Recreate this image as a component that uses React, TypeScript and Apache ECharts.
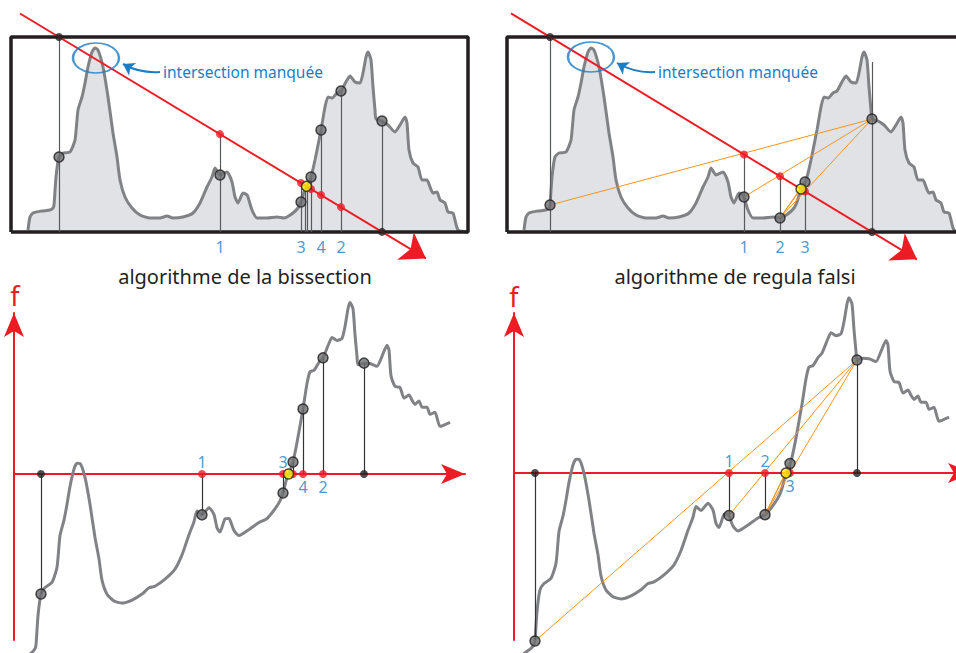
import React, { useEffect, useRef } from "react";
import * as echarts from "echarts";

// Terrain profile inside the 457 x 195 box (t: horizontal position, h: height above box floor)
const terrainT = [17,19,22,31,39,42,43,45,48,52,59,64,67,71,74,77,81,84,87,92,97,102,106,109,114,121,129,139,149,156,162,172,182,189,196,201,204,209,216,221,224,227,232,236,237,241,246,256,266,273,276,282,287,290,294,298,300,304,310,314,317,321,326,330,336,339,344,349,352,355,357,360,362,364,365,371,377,384,389,394,396,398,402,407,411,416,419,422,426,429,434,437,442,447,457];
const terrainH = [2,15,19,21,22,24,27,55,75,79,80,92,122,135,149,165,180,184,182,165,135,99,75,52,35,24,17,14,14,16,14,15,19,29,45,55,64,57,60,50,35,29,39,37,35,22,14,14,15,14,15,19,24,30,43,50,55,72,102,125,135,134,139,141,152,156,150,149,159,175,180,172,145,122,113,111,107,100,107,115,109,82,69,65,52,52,45,39,40,32,29,20,19,2,0];

// Box
const boxCorners = [[0, 0], [457, 0], [457, 195], [0, 195], [0, 0]];

// Rays (start, arrow tip)
const rayLeft = [[9, 218.5], [415, -26.4]];
const rayRight = [[4, 218.6], [410, -27.3]];

// Bisection
const bisEnds = [48, 371];
const bisSteps = [209, 330, 290, 310];
const bisLabels = ["1", "2", "3", "4"];
const bisSides = ["top", "bottom", "top", "bottom"];
const bisExtra = [300];
const bisRoot = 295.5;
const bisFine = [294, 296.5];

// Regula falsi
const rfEnds = [43, 365];
const rfSteps = [237, 273, 298];
const rfLabels = ["1", "2", "3"];
const rfSides = ["top", "top", "bottom"];
const rfRoot = 294;
const rfEndLineTop = 170;
const rfSecants = [[43, 365], [237, 365], [273, 365], [273, 298], [273, 294]];

// Annotation "intersection manquée"
const missLeft = { ellipse: [85, 174], arrow: [[149, 160], [112, 168]] };
const missRight = { ellipse: [84, 175], arrow: [[148, 160], [110, 169]] };

const RED = "#ed1c24";
const BLUE = "#1b7dc4";
const CURVE = "#808285";
const FILL = "#e0e2e6";
const DARK = "#231f20";
const ORANGE = "#f7941d";
const PT = "#6d6e71";
const YEL = "#fff200";
const FONT = "'Noto Sans', 'DejaVu Sans', sans-serif";

function hAt(t: number) {
  const i = terrainT.indexOf(t);
  return i >= 0 ? terrainH[i] : NaN;
}
function rayAt(ray: number[][], t: number) {
  const [[x0, y0], [x1, y1]] = ray;
  return y0 + ((y1 - y0) * (t - x0)) / (x1 - x0);
}

function buildPanel(idx: number, top: boolean, ray: number[][], cfg: any) {
  const base = { xAxisIndex: idx, yAxisIndex: idx, silent: true };
  const r = (t: number) => (top ? rayAt(ray, t) : 0);
  const v = (t: number) => (t === cfg.root ? r(t) : top ? hAt(t) : hAt(t) - rayAt(ray, t));
  const curve = terrainT.map((t, i) => [t, top ? terrainH[i] : terrainH[i] - rayAt(ray, t)]);
  const pts = [...cfg.ends, ...cfg.steps, ...cfg.extra];
  const s: any[] = [];
  const curveSeries: any = {
    type: "line", ...base, data: curve, symbol: "none", smooth: 0.2, clip: false,
    lineStyle: { color: CURVE, width: 3 }, z: 1,
  };
  if (top) curveSeries.areaStyle = { color: FILL, opacity: 1 };
  s.push(curveSeries);
  if (top) {
    s.push({ type: "line", ...base, data: boxCorners, symbol: "none", clip: false, lineStyle: { color: DARK, width: 3.5 }, z: 2 });
  }
  // vertical lines
  const vl: any[] = pts.map((t: number) => {
    let yTop = top ? Math.max(v(t), r(t)) : v(t);
    if (top && cfg.endLineTop && t === cfg.ends[1]) yTop = cfg.endLineTop;
    return { coords: [[t, 0], [t, yTop]] };
  });
  if (top) (cfg.fine || []).forEach((t: number) => vl.push({ coords: [[t, 0], [t, rayAt(ray, t)]] }));
  s.push({
    type: "lines", coordinateSystem: "cartesian2d", ...base, data: vl, clip: false,
    lineStyle: { color: top ? "#58595b" : "#333333", width: 1.2, opacity: 1 }, z: 3,
  });
  // secants
  if (cfg.secants) {
    s.push({
      type: "lines", coordinateSystem: "cartesian2d", ...base, clip: false,
      data: cfg.secants.map(([a, b]: number[]) => ({ coords: [[a, v(a)], [b, v(b)]] })),
      lineStyle: { color: ORANGE, width: 1, opacity: 1 }, z: 4,
    });
  }
  // ray and annotation (top panels)
  if (top) {
    s.push({
      type: "lines", coordinateSystem: "cartesian2d", ...base, clip: false,
      data: [{ coords: ray }], symbol: ["none", "arrow"], symbolSize: [15, 24],
      lineStyle: { color: RED, width: 2, opacity: 1 }, z: 5,
    });
    s.push({
      type: "lines", coordinateSystem: "cartesian2d", ...base, clip: false,
      data: [{ coords: cfg.miss.arrow }], symbol: ["none", "arrow"], symbolSize: [9, 11],
      lineStyle: { color: BLUE, width: 2, opacity: 1, curveness: 0.15 }, z: 5,
    });
    s.push({
      type: "scatter", ...base, clip: false, data: [cfg.miss.ellipse], symbol: "circle", symbolSize: [46, 30],
      itemStyle: { color: "rgba(0,0,0,0)", borderColor: BLUE, borderWidth: 2 }, z: 5,
    });
  }
  // points
  s.push({
    type: "scatter", ...base, clip: false, data: pts.map((t: number) => [t, v(t)]), symbolSize: 10,
    itemStyle: { color: PT, borderColor: DARK, borderWidth: 1.5 }, z: 6,
  });
  s.push({
    type: "scatter", ...base, clip: false, data: [...cfg.steps, ...cfg.extra].map((t: number) => [t, r(t)]), symbolSize: 8,
    itemStyle: { color: RED }, z: 6,
  });
  s.push({
    type: "scatter", ...base, clip: false, data: cfg.ends.map((t: number) => [t, r(t)]), symbolSize: 8,
    itemStyle: { color: DARK }, z: 6,
  });
  s.push({
    type: "scatter", ...base, clip: false, data: [[cfg.root, r(cfg.root)]], symbolSize: 10,
    itemStyle: { color: YEL, borderColor: DARK, borderWidth: 1.5 }, z: 7,
  });
  // labels
  s.push({
    type: "scatter", ...base, clip: false, symbolSize: 1, itemStyle: { color: "rgba(0,0,0,0)" }, z: 8,
    data: cfg.steps.map((t: number, i: number) => ({
      value: [t, 0],
      label: {
        show: true, formatter: cfg.labels[i], position: top ? "bottom" : cfg.sides[i], distance: top ? 6 : 4,
        color: BLUE, fontSize: 16, fontFamily: FONT,
      },
    })),
  });
  return s;
}

export default function App() {
  const ref = useRef<HTMLDivElement>(null);
  useEffect(() => {
    if (!ref.current) return;
    const chart = echarts.init(ref.current, undefined, { renderer: "svg" });
    const axisLine = (show: boolean) => ({
      show, onZero: true, symbol: ["none", "arrow"], symbolSize: [15, 24],
      lineStyle: { color: RED, width: 2 },
    });
    const hiddenX = (i: number, min: number, max: number) => ({ gridIndex: i, type: "value", min, max, show: false });
    const shownAxis = (i: number, min: number, max: number) => ({
      gridIndex: i, type: "value", min, max, axisLine: axisLine(true),
      axisTick: { show: false }, axisLabel: { show: false }, splitLine: { show: false },
    });
    const series = [
      ...buildPanel(0, true, rayLeft, { ends: bisEnds, steps: bisSteps, labels: bisLabels, sides: bisSides, extra: bisExtra, root: bisRoot, fine: bisFine, miss: missLeft }),
      ...buildPanel(1, true, rayRight, { ends: rfEnds, steps: rfSteps, labels: rfLabels, sides: rfSides, extra: [], root: rfRoot, fine: [], secants: rfSecants, endLineTop: rfEndLineTop, miss: missRight }),
      ...buildPanel(2, false, rayLeft, { ends: bisEnds, steps: bisSteps, labels: bisLabels, sides: bisSides, extra: bisExtra, root: bisRoot }),
      ...buildPanel(3, false, rayRight, { ends: rfEnds, steps: rfSteps, labels: rfLabels, sides: rfSides, extra: [], root: rfRoot, secants: rfSecants }),
    ];
    const txt = (x: number, y: number, text: string, size: number, color: string, align = "center") => ({
      type: "text", x, y, z: 100, silent: true,
      style: { text, fill: color, fontSize: size, fontFamily: FONT, align, verticalAlign: "middle" },
    });
    const g = (left: number, top: number, width: number, height: number) => ({
      left, top, width, height, containLabel: false, outerBoundsMode: "none",
    });
    chart.setOption({
      animation: false,
      backgroundColor: "#ffffff",
      grid: [g(11, 37, 457, 195), g(507, 37, 457, 195), g(14, 313, 451, 327), g(514, 313, 458, 327)],
      xAxis: [hiddenX(0, 0, 457), hiddenX(1, 0, 457), shownAxis(2, 21, 472), shownAxis(3, 22, 480)],
      yAxis: [hiddenX(0, 0, 195), hiddenX(1, 0, 195), shownAxis(2, -166, 161), shownAxis(3, -167, 160)],
      series,
      graphic: [
        txt(245, 276, "algorithme de la bissection", 20, DARK),
        txt(735, 276, "algorithme de regula falsi", 20, DARK),
        txt(15, 295, "f", 27, RED),
        txt(514, 296, "f", 27, RED),
        txt(163, 72, "intersection manquée", 15.5, BLUE, "left"),
        txt(658, 72, "intersection manquée", 15.5, BLUE, "left"),
      ],
    });
    return () => chart.dispose();
  }, []);
  return <div ref={ref} style={{ position: "absolute", left: 0, top: 0, width: 956, height: 653 }} />;
}
